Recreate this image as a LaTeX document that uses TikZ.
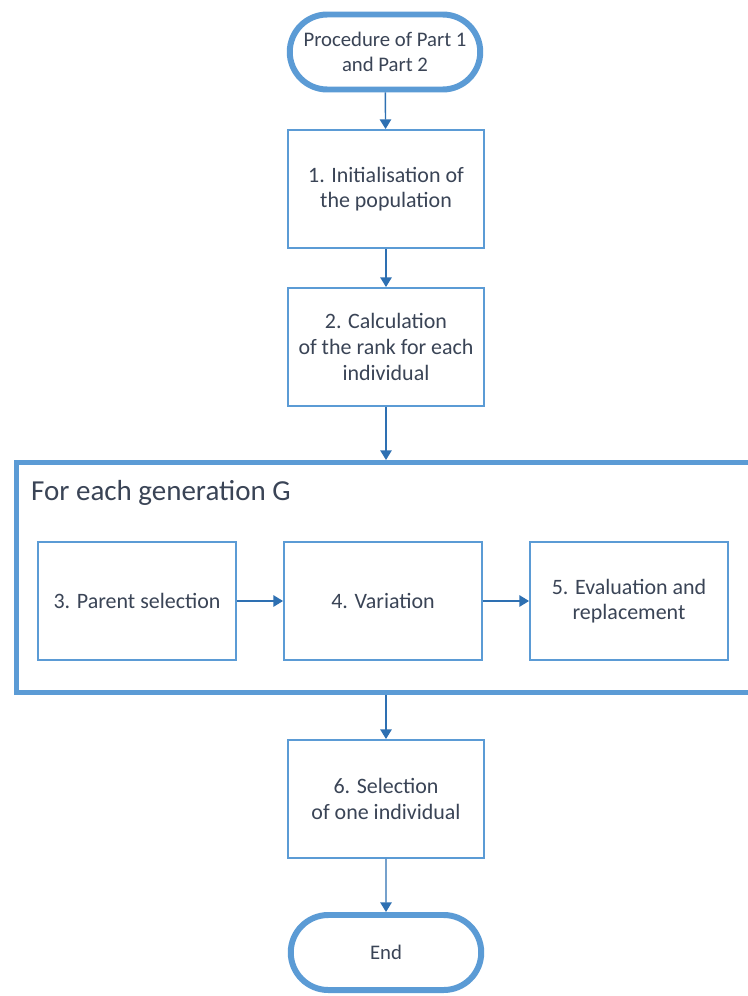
\documentclass[tikz,border=0pt]{standalone}
\usepackage{fontspec}
\setmainfont{Carlito}
\usetikzlibrary{shapes.misc,arrows.meta}

\definecolor{boxblue}{RGB}{91,155,213}
\definecolor{arrowblue}{RGB}{46,112,178}
\definecolor{txtgray}{RGB}{58,68,86}

\tikzset{
	stepbox/.style={draw=boxblue, line width=1.1pt, fill=white, minimum width=3.92cm, minimum height=2.36cm, align=center, text=txtgray, font=\fontsize{12.5}{14.6}\selectfont},
	termbox/.style={rounded rectangle, draw=boxblue, line width=3.4pt, minimum width=3.88cm, minimum height=1.5cm, inner xsep=1pt, align=center, text=txtgray, font=\fontsize{11.8}{14.4}\selectfont},
	flow/.style={draw=arrowblue, line width=0.8pt, -{Triangle[width=6.5pt,length=5.5pt]}}
}

\begin{document}
\begin{tikzpicture}
	%\draw[blue] (0,0) grid (15,-20);
	\clip (0,0) rectangle (14.96,-19.92);
	\fill[white] (0,0) rectangle (14.96,-19.92);

	% main column
	\node [termbox] (start) at (7.7,-1.04) {Procedure of Part 1\\and Part 2};
	\node [stepbox] (init) at (7.72,-3.78) {1. Initialisation of\\the population};
	\node [stepbox] (rank) at (7.72,-6.94) {2. Calculation\\of the rank for each\\individual};

	% loop over generations
	\node [draw=boxblue, line width=2.9pt, minimum width=15.1cm, minimum height=4.6cm, anchor=north west] (loop) at (0.28,-9.2) {};
	\node [anchor=west, text=txtgray, font=\fontsize{16.5}{19}\selectfont] (looplbl) at (0.5,-9.86) {For each generation G};
	\node [stepbox, minimum width=3.96cm] (parent) at (2.74,-12.02) {3. Parent selection};
	\node [stepbox, minimum width=3.96cm] (vari) at (7.66,-12.02) {4. Variation};
	\node [stepbox, minimum width=3.96cm] (evalu) at (12.58,-12.02) {5. Evaluation and\\replacement};

	\node [stepbox] (choose) at (7.72,-15.98) {6. Selection\\of one individual};
	\node [termbox] (stop) at (7.72,-19.05) {End};

	\draw [flow] (start) -- (init);
	\draw [flow] (init) -- (rank);
	\draw [flow] (rank.south) -- (rank.south |- loop.north);
	\draw [flow] (parent) -- (vari);
	\draw [flow] (vari) -- (evalu);
	\draw [flow] (choose.north |- loop.south) -- (choose.north);
	\draw [flow] (choose) -- (stop);
\end{tikzpicture}
\end{document}
